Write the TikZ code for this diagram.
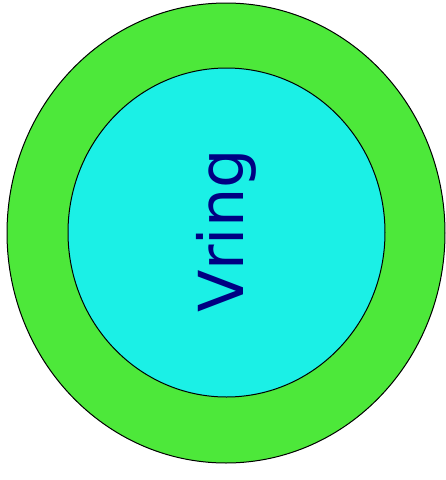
\documentclass[tikz,border=0pt]{standalone}
\usepackage{fontspec}
\setmainfont{DejaVu Sans}
\definecolor{RingGreen}{RGB}{77,232,58}
\definecolor{RingCyan}{RGB}{27,240,230}
\definecolor{RingBlue}{RGB}{0,0,130}
\begin{document}
\begin{tikzpicture}[x=1pt,y=-1pt]
  \useasboundingbox (0,0) rectangle (446,480);
  \draw[fill=RingGreen,line width=1pt] (226,233) ellipse [x radius=219,y radius=230];
  \draw[fill=RingCyan,line width=1pt] (226.5,232.5) ellipse [x radius=158.5,y radius=164.5];
  \node[rotate=90,anchor=base,inner sep=0pt,text=RingBlue,font=\fontsize{62}{62}\selectfont] (vring) at (243,231) {Vring};
\end{tikzpicture}
\end{document}
